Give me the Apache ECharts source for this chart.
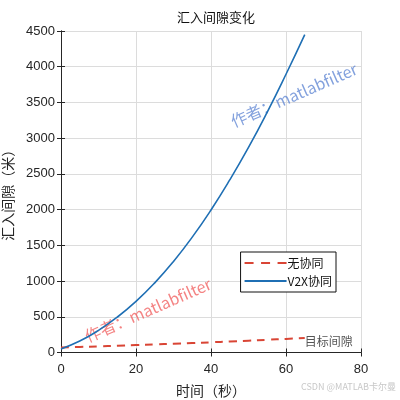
<!DOCTYPE html>
<html>
<head>
<meta charset="utf-8">
<script src="https://cdn.jsdelivr.net/npm/echarts@6/dist/echarts.min.js"></script>
<style>
  html, body { margin: 0; padding: 0; background: #fff; }
  #chart { width: 400px; height: 400px; }
</style>
</head>
<body>
<div id="chart"></div>
<script>
// time (s)
const timeSec = [0, 5, 10, 15, 20, 25, 30, 35, 40, 45, 50, 55, 60, 65];
// gap without coordination (m)
const gapNoCoop = [70, 78, 86, 95, 104, 113, 122, 132, 143, 154, 166, 178, 190, 202];
// gap with V2X coordination (m)
const gapV2X = [50, 160, 310, 495, 715, 975, 1275, 1615, 1995, 2415, 2870, 3365, 3895, 4450];

const yMax = 4500;

const FONT = '"Liberation Sans", "Noto Sans CJK SC", sans-serif';
const CJK = '"Noto Sans CJK SC", sans-serif';

const chart = echarts.init(document.getElementById('chart'));

const pairs = (xs, ys) => xs.map((x, i) => [x, ys[i]]);

const hiddenAxis = {
  axisLine: { show: true, lineStyle: { color: '#262626', width: 1 } },
  axisTick: { show: true, inside: true, length: 4, lineStyle: { color: '#262626' } },
  axisLabel: { show: false },
  splitLine: { show: false }
};

chart.setOption({
  animation: false,
  title: {
    text: '汇入间隙变化',
    left: 211, top: 6, textAlign: 'center',
    textStyle: { fontFamily: CJK, fontSize: 13, fontWeight: 'normal', color: '#111' }
  },
  grid: { left: 61, right: 39, top: 31, bottom: 47.5, containLabel: false, outerBoundsMode: 'none' },
  legend: {
    right: 64, top: 252,
    orient: 'vertical',
    itemGap: 6, itemWidth: 42, itemHeight: 10,
    padding: [5, 4, 5, 4],
    backgroundColor: '#fff', borderColor: '#111', borderWidth: 1,
    textStyle: { fontFamily: CJK, fontSize: 12, color: '#111', padding: [0, 0, 0, -4] },
    data: [
      { name: '无协同', icon: 'path://M0,4h9v2h-9zM16.5,4h9v2h-9zM33,4h9v2h-9z' },
      { name: 'V2X协同', icon: 'path://M0,4h42v2h-42z' }
    ]
  },
  xAxis: [
    {
      type: 'value', min: 0, max: 80, interval: 20,
      name: '时间（秒）', nameLocation: 'middle', nameGap: 31,
      nameTextStyle: { fontFamily: CJK, fontSize: 14, color: '#262626' },
      axisLine: { show: true, lineStyle: { color: '#262626' } },
      axisTick: { show: true, inside: true, length: 4, lineStyle: { color: '#262626' } },
      axisLabel: { fontFamily: FONT, fontSize: 13, color: '#262626', margin: 10, formatter: v => String(v) },
      splitLine: { show: true, lineStyle: { color: '#dcdcdc' } }
    },
    Object.assign({ type: 'value', position: 'top', min: 0, max: 80, interval: 20 }, hiddenAxis)
  ],
  yAxis: [
    {
      type: 'value', min: 0, max: yMax, interval: 500,
      name: '汇入间隙（米）', nameLocation: 'middle', nameGap: 43,
      nameTextStyle: { fontFamily: CJK, fontSize: 14, color: '#262626' },
      axisLine: { show: true, lineStyle: { color: '#262626' } },
      axisTick: { show: true, inside: true, length: 4, lineStyle: { color: '#262626' } },
      axisLabel: { fontFamily: FONT, fontSize: 13, color: '#262626', margin: 6, formatter: v => String(v) },
      splitLine: { show: true, lineStyle: { color: '#dcdcdc' } }
    },
    Object.assign({ type: 'value', position: 'right', min: 0, max: yMax, interval: 500 }, hiddenAxis)
  ],
  series: [
    {
      name: '无协同', type: 'line', showSymbol: false, smooth: true,
      data: pairs(timeSec, gapNoCoop),
      lineStyle: { color: '#d94535', width: 2, type: [8, 6] },
      itemStyle: { color: '#d94535' }
    },
    {
      name: 'V2X协同', type: 'line', showSymbol: false, smooth: true,
      data: pairs(timeSec, gapV2X),
      lineStyle: { color: '#1f6fb4', width: 1.6 },
      itemStyle: { color: '#1f6fb4' }
    }
  ]
});

// label at the end of the reference line, plus watermarks
const endPt = chart.convertToPixel({ gridIndex: 0 }, [timeSec[timeSec.length - 1], gapNoCoop[gapNoCoop.length - 1]]);
chart.setOption({
  graphic: [
    {
      type: 'text', left: endPt[0], top: endPt[1] - 3,
      style: { text: '目标间隙', font: '12px ' + CJK, fill: '#555' }
    },
    {
      type: 'text', x: 294, y: 95, rotation: 0.41,
      style: { text: '作者：matlabfilter', font: '16px ' + CJK, fill: 'rgba(90,130,210,0.75)',
               textAlign: 'center', textVerticalAlign: 'middle' }
    },
    {
      type: 'text', x: 148, y: 310, rotation: 0.41,
      style: { text: '作者：matlabfilter', font: '16px ' + CJK, fill: 'rgba(240,90,90,0.75)',
               textAlign: 'center', textVerticalAlign: 'middle' }
    },
    {
      type: 'text', right: 4, top: 382,
      style: { text: 'CSDN @MATLAB卡尔曼', font: '9px ' + CJK, fill: '#c8c8c8' }
    }
  ]
});
</script>
</body>
</html>
